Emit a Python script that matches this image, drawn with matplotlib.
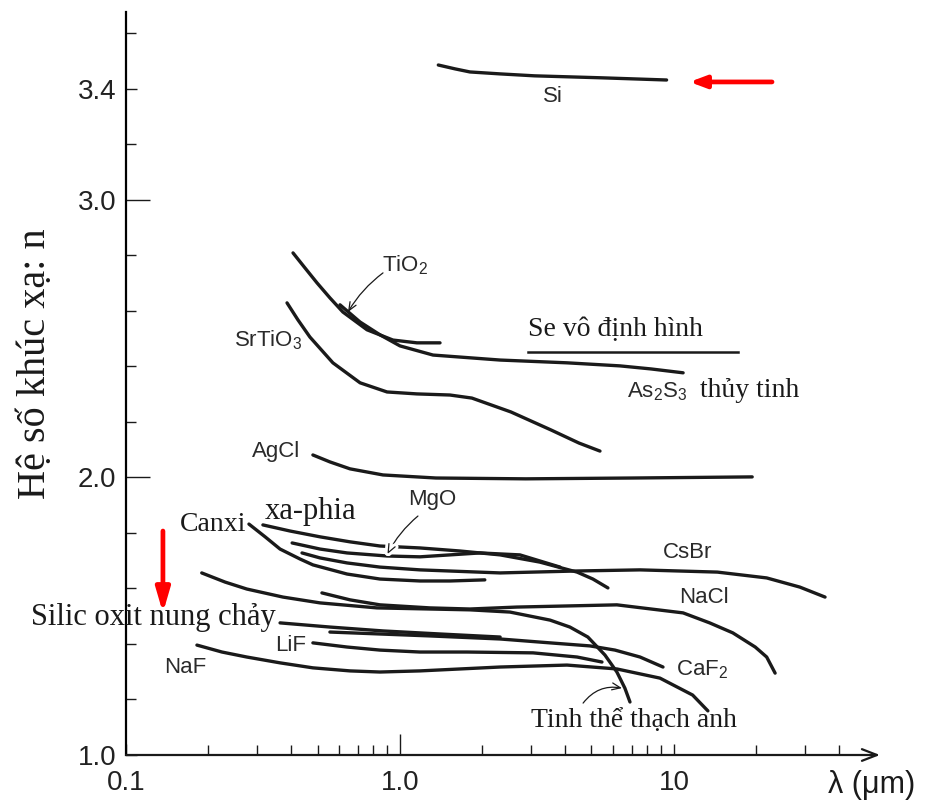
import matplotlib
matplotlib.use("Agg")
import matplotlib.pyplot as plt
import matplotlib.patheffects as pe
from matplotlib.ticker import FixedLocator, FixedFormatter, NullFormatter

plt.rcParams["mathtext.default"] = "regular"

SANS = "Liberation Sans"
SERIF = "Liberation Serif"
INK = "#1a1a1a"

# wavelength (um) / refractive index n
SI_WL = [1.38, 1.59, 1.80, 2.32, 3.1, 5.4, 9.4]
SI_N = [3.486, 3.472, 3.461, 3.454, 3.447, 3.440, 3.432]

TIO2_WL = [0.407, 0.450, 0.498, 0.555, 0.619, 0.758, 0.943, 1.153, 1.40]
TIO2_N = [2.809, 2.755, 2.701, 2.647, 2.596, 2.532, 2.495, 2.485, 2.485]

AS2S3_WL = [0.604, 0.715, 0.845, 1.0, 1.32, 2.32, 4.07, 6.35, 8.24, 10.8]
AS2S3_N = [2.622, 2.560, 2.514, 2.474, 2.441, 2.423, 2.413, 2.402, 2.391, 2.377]

SRTIO3_WL = [0.387, 0.424, 0.469, 0.569, 0.715, 0.897, 1.153, 1.522, 1.83, 2.54, 3.56, 4.50, 5.37]
SRTIO3_N = [2.629, 2.568, 2.506, 2.413, 2.341, 2.308, 2.301, 2.297, 2.286, 2.236, 2.171, 2.124, 2.095]

SE_WL = [2.93, 17.1]
SE_N = [2.452, 2.452]

AGCL_WL = [0.481, 0.555, 0.657, 0.867, 1.353, 2.88, 7.09, 19.3]
AGCL_N = [2.081, 2.056, 2.031, 2.009, 1.998, 1.995, 1.998, 2.002]

CANXI_WL = [0.281, 0.322, 0.365, 0.432, 0.481, 0.641, 0.845, 1.183, 1.522, 2.04]
CANXI_N = [1.832, 1.786, 1.742, 1.706, 1.685, 1.652, 1.634, 1.627, 1.627, 1.631]

SAPPHIRE_WL = [0.316, 0.397, 0.511, 0.657, 0.845, 1.183, 1.656, 2.32, 3.24, 4.43, 5.06, 5.74]
SAPPHIRE_N = [1.829, 1.807, 1.786, 1.768, 1.753, 1.746, 1.735, 1.721, 1.695, 1.659, 1.634, 1.602]

MGO_WL = [0.404, 0.511, 0.641, 0.897, 1.183, 1.522, 1.96, 2.74, 3.84]
MGO_N = [1.764, 1.742, 1.728, 1.717, 1.714, 1.721, 1.728, 1.721, 1.677]

CSBR_WL = [0.439, 0.511, 0.641, 0.845, 1.183, 2.32, 4.43, 7.52, 14.4, 21.8, 28.8, 35.6]
CSBR_N = [1.728, 1.710, 1.692, 1.677, 1.667, 1.656, 1.663, 1.667, 1.659, 1.638, 1.605, 1.569]

QUARTZ_WL = [0.189, 0.230, 0.276, 0.374, 0.511, 0.824, 1.287, 1.80, 2.52, 3.53, 4.17, 4.85, 5.60, 6.19, 6.62, 6.91]
QUARTZ_N = [1.656, 1.623, 1.598, 1.569, 1.548, 1.530, 1.526, 1.523, 1.515, 1.486, 1.461, 1.425, 1.360, 1.299, 1.241, 1.191]

NACL_WL = [0.519, 0.657, 0.845, 1.287, 1.80, 2.67, 4.07, 6.19, 10.8, 13.5, 16.4, 19.8, 21.8, 23.4]
NACL_N = [1.584, 1.559, 1.541, 1.530, 1.526, 1.533, 1.537, 1.541, 1.512, 1.476, 1.440, 1.389, 1.353, 1.295]

SILICA_WL = [0.365, 0.555, 0.867, 1.40, 2.32]
SILICA_N = [1.476, 1.461, 1.447, 1.436, 1.425]

CAF2_WL = [0.555, 0.845, 1.287, 2.32, 3.53, 4.94, 6.09, 7.52, 9.12]
CAF2_N = [1.443, 1.436, 1.429, 1.418, 1.404, 1.393, 1.378, 1.353, 1.317]

LIF_WL = [0.481, 0.641, 0.845, 1.183, 1.756, 3.06, 4.43, 5.46]
LIF_N = [1.404, 1.389, 1.378, 1.371, 1.371, 1.368, 1.353, 1.335]

NAF_WL = [0.1815, 0.224, 0.276, 0.365, 0.481, 0.657, 0.845, 1.183, 2.32, 4.07, 6.19, 8.89, 11.7, 13.3]
NAF_N = [1.396, 1.371, 1.353, 1.332, 1.314, 1.303, 1.299, 1.303, 1.317, 1.324, 1.310, 1.277, 1.216, 1.159]

X_MAJOR = [0.1, 1.0, 10.0]
X_MAJOR_LABELS = ["0.1", "1.0", "10"]
X_MINOR = [0.2, 0.3, 0.4, 0.5, 0.6, 0.7, 0.8, 0.9, 2, 3, 4, 5, 6, 7, 8, 9, 20, 30, 40]
Y_MAJOR = [1.0, 2.0, 3.0, 3.4]
Y_MAJOR_LABELS = ["1.0", "2.0", "3.0", "3.4"]
Y_MINOR = [1.2, 1.4, 1.6, 1.8, 2.2, 2.4, 2.6, 2.8, 3.2, 3.6]

CURVES = [
    (SI_WL, SI_N), (TIO2_WL, TIO2_N), (AS2S3_WL, AS2S3_N), (SRTIO3_WL, SRTIO3_N),
    (AGCL_WL, AGCL_N), (CANXI_WL, CANXI_N), (SAPPHIRE_WL, SAPPHIRE_N), (MGO_WL, MGO_N),
    (CSBR_WL, CSBR_N), (QUARTZ_WL, QUARTZ_N), (NACL_WL, NACL_N), (SILICA_WL, SILICA_N),
    (CAF2_WL, CAF2_N), (LIF_WL, LIF_N), (NAF_WL, NAF_N),
]


def sans(ax, x, y, s, ha="center", size=16):
    ax.text(x, y, s, ha=ha, va="center", fontsize=size, family=SANS, color="#2a2a2a")


def serif(ax, x, y, s, ha="left", size=20):
    ax.text(x, y, s, ha=ha, va="center", fontsize=size, family=SERIF, color=INK)


def main() -> None:
    fig = plt.figure(figsize=(9.48, 8.11), dpi=100)
    ax = fig.add_axes([126 / 948, 56 / 811, 754 / 948, 743 / 811])
    ax.set_xscale("log")
    ax.set_xlim(0.1, 56.5)
    ax.set_ylim(1.0, 3.677)

    for wl, n in CURVES:
        ax.plot(wl, n, color=INK, lw=2.4, solid_capstyle="round", solid_joinstyle="round")
    ax.plot(SE_WL, SE_N, color=INK, lw=1.8)

    for side in ("top", "right", "bottom"):
        ax.spines[side].set_visible(False)
    ax.spines["left"].set_linewidth(1.6)
    ax.annotate("", xy=(1.0, 0.0), xytext=(0.0, 0.0), xycoords="axes fraction",
                textcoords="axes fraction", annotation_clip=False,
                arrowprops=dict(arrowstyle="->,head_length=0.9,head_width=0.35",
                                lw=1.6, color=INK, shrinkA=0, shrinkB=0, mutation_scale=12))

    ax.xaxis.set_major_locator(FixedLocator(X_MAJOR))
    ax.xaxis.set_major_formatter(FixedFormatter(X_MAJOR_LABELS))
    ax.xaxis.set_minor_locator(FixedLocator(X_MINOR))
    ax.xaxis.set_minor_formatter(NullFormatter())
    ax.yaxis.set_major_locator(FixedLocator(Y_MAJOR))
    ax.yaxis.set_major_formatter(FixedFormatter(Y_MAJOR_LABELS))
    ax.yaxis.set_minor_locator(FixedLocator(Y_MINOR))
    ax.tick_params(which="both", direction="in", color=INK, width=1.0)
    ax.tick_params(which="major", length=8, labelsize=20, labelcolor="#222222")
    ax.tick_params(which="minor", length=7.5)
    ax.tick_params(axis="x", which="major", pad=11)
    ax.tick_params(axis="y", which="major", pad=7)
    for lab in ax.get_xticklabels() + ax.get_yticklabels():
        lab.set_family(SANS)
    ax.xaxis.get_major_ticks()[1].tick1line.set_markersize(15)
    ax.yaxis.get_major_ticks()[1].tick1line.set_markersize(17)
    ax.yaxis.get_major_ticks()[2].tick1line.set_markersize(17)

    # curve labels
    sans(ax, 3.61, 3.371, "Si")
    sans(ax, 0.86, 2.765, "TiO$_2$", ha="left")
    sans(ax, 0.33, 2.495, "SrTiO$_3$")
    serif(ax, 2.93, 2.532, "Se vô định hình")
    sans(ax, 6.74, 2.308, "As$_2$S$_3$", ha="left")
    serif(ax, 12.45, 2.315, "thủy tinh")
    sans(ax, 0.353, 2.092, "AgCl")
    serif(ax, 0.274, 1.829, "Canxi", ha="right")
    serif(ax, 0.322, 1.879, "xa-phia", size=22)
    sans(ax, 1.31, 1.919, "MgO")
    sans(ax, 11.25, 1.728, "CsBr")
    sans(ax, 12.87, 1.566, "NaCl")
    serif(ax, 0.353, 1.494, "Silic oxit nung chảy", ha="right", size=22)
    sans(ax, 0.40, 1.393, "LiF")
    sans(ax, 0.164, 1.317, "NaF")
    sans(ax, 10.16, 1.309, "CaF$_2$", ha="left")
    serif(ax, 3.01, 1.126, "Tinh thể thạch anh")

    thin = dict(arrowstyle="->,head_length=0.6,head_width=0.25", lw=0.9, color=INK,
                shrinkA=0, shrinkB=0, mutation_scale=10)
    ax.annotate("", xy=(0.646, 2.596), xytext=(0.867, 2.737),
                arrowprops=dict(thin, connectionstyle="arc3,rad=0.1"))
    mgo = ax.annotate("", xy=(0.90, 1.724), xytext=(1.163, 1.861),
                      arrowprops=dict(thin, connectionstyle="arc3,rad=0.1"))
    mgo.arrow_patch.set_path_effects([pe.Stroke(linewidth=5, foreground="white"), pe.Normal()])
    ax.annotate("", xy=(6.46, 1.241), xytext=(4.66, 1.187),
                arrowprops=dict(thin, connectionstyle="arc3,rad=-0.3"))

    # red markers
    red = "#ff0000"
    ax.annotate("", xy=(11.4, 3.425), xytext=(22.8, 3.425),
                arrowprops=dict(arrowstyle="-|>,head_length=0.8,head_width=0.3", lw=3.4,
                                color=red, shrinkA=0, shrinkB=0, mutation_scale=12))
    ax.annotate("", xy=(0.1364, 1.512), xytext=(0.1364, 1.807),
                arrowprops=dict(arrowstyle="-|>,head_length=1.2,head_width=0.35", lw=3.4,
                                color=red, shrinkA=0, shrinkB=0, mutation_scale=12))

    fig.text(36 / 948, 1 - 364 / 811, "Hệ số khúc xạ: n", rotation=90, ha="center",
             va="center", fontsize=29, family=SERIF, color=INK)
    fig.text(828 / 948, 1 - 785 / 811, "λ (μm)", ha="left", va="center", fontsize=22,
             family=SANS, color=INK)

    fig.savefig("out.png", dpi=100)
    plt.close(fig)


if __name__ == "__main__":
    main()
